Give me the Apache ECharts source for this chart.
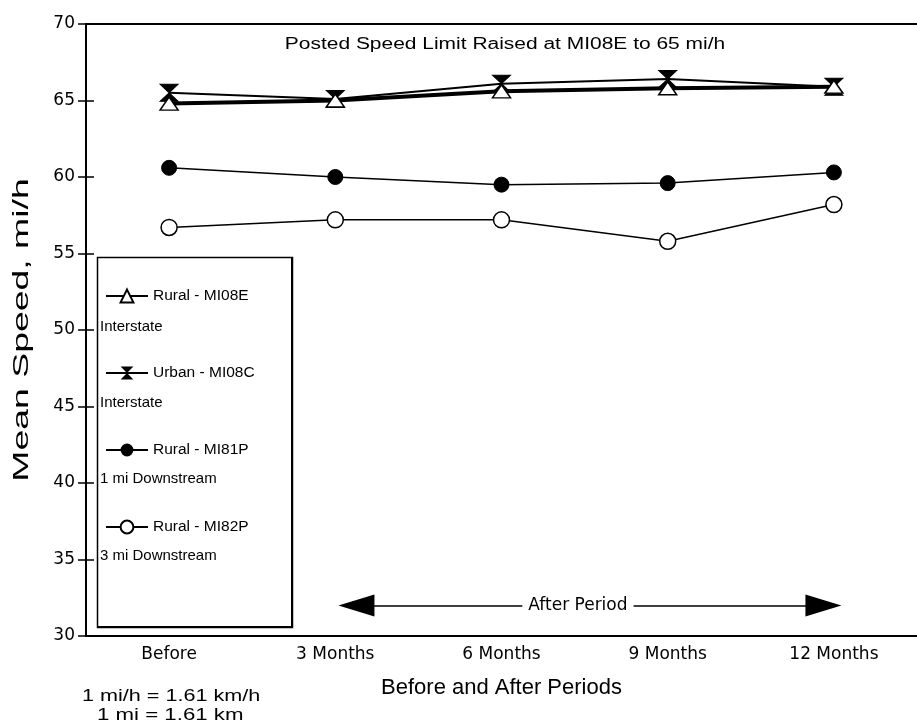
<!DOCTYPE html>
<html>
<head>
<meta charset="utf-8">
<script src="https://cdn.jsdelivr.net/npm/echarts@6/dist/echarts.min.js"></script>
<style>
html,body{margin:0;padding:0;background:#fff;}
#main{width:917px;height:728px;}
</style>
</head>
<body>
<div id="main"></div>
<script>
var categories = ['Before', '3 Months', '6 Months', '9 Months', '12 Months'];
var ruralMI08E = [64.8, 65.0, 65.6, 65.8, 65.9];
var urbanMI08C = [65.5, 65.1, 66.1, 66.4, 65.9];
var ruralMI81P = [60.6, 60.0, 59.5, 59.6, 60.3];
var ruralMI82P = [56.7, 57.2, 57.2, 55.8, 58.2];
var yTicks = [30, 35, 40, 45, 50, 55, 60, 65, 70];
var afterPeriod = { from: 1.127, to: 3.937, level: 32.0, label: 'After Period' };

var FONT = '"Liberation Sans", Arial, sans-serif';
var WIDE = '"DejaVu Sans", sans-serif';
var chart = echarts.init(document.getElementById('main'), null, { renderer: 'canvas' });
var hourglass = 'path://M0,0 L10,0 L5,5 Z M5,5 L10,10 L0,10 Z';

var option = {
  animation: false,
  backgroundColor: '#fff',
  textStyle: { fontFamily: FONT, color: '#000' },
  grid: { left: 86, right: -8, top: 24, bottom: 92, containLabel: false },
  xAxis: [{
    type: 'category',
    data: categories,
    boundaryGap: true,
    axisLine: { onZero: false, lineStyle: { color: '#000', width: 2 } },
    axisTick: { inside: true, alignWithLabel: true, length: 5, lineStyle: { color: '#000', width: 1.5 } },
    axisLabel: { color: '#000', fontSize: 17, fontFamily: WIDE, margin: 10 },
    name: 'Before and After Periods',
    nameLocation: 'middle',
    nameGap: 41,
    nameTextStyle: { fontSize: 22, color: '#000', fontFamily: FONT }
  }, {
    type: 'value',
    position: 'top',
    min: -0.5,
    max: 4.5,
    axisLine: { show: true, onZero: false, lineStyle: { color: '#000', width: 2 } },
    axisTick: { show: false },
    axisLabel: { show: false },
    splitLine: { show: false }
  }],
  yAxis: [{
    type: 'value',
    min: yTicks[0],
    max: yTicks[yTicks.length - 1],
    interval: 5,
    axisLine: { show: true, onZero: false, lineStyle: { color: '#000', width: 2 } },
    axisTick: { show: true, length: 8, lineStyle: { color: '#000', width: 1.5 } },
    axisLabel: { color: '#000', fontSize: 17, fontFamily: WIDE, margin: 11 },
    splitLine: { show: false }
  }, {
    type: 'value',
    min: yTicks[0],
    max: yTicks[yTicks.length - 1],
    interval: 5,
    position: 'left',
    axisLine: { show: false, onZero: false },
    axisTick: { show: true, inside: true, length: 8, lineStyle: { color: '#000', width: 1.5 } },
    axisLabel: { show: false },
    splitLine: { show: false }
  }],
  legend: {
    orient: 'vertical',
    left: 100,
    top: 282,
    itemGap: 59,
    itemWidth: 42,
    itemHeight: 16,
    textStyle: { fontSize: 15.5, color: '#000', fontFamily: FONT, lineHeight: 18 },
    data: ['Rural - MI08E', 'Urban - MI08C', 'Rural - MI81P', 'Rural - MI82P']
  },
  series: [{
    name: 'Urban - MI08C',
    type: 'line',
    data: urbanMI08C,
    symbol: hourglass,
    symbolSize: [18, 17],
    lineStyle: { color: '#000', width: 2 },
    itemStyle: { color: '#000', borderColor: '#000' },
    z: 3
  }, {
    name: 'Rural - MI08E',
    type: 'line',
    data: ruralMI08E,
    symbol: 'triangle',
    symbolSize: [18, 13],
    lineStyle: { color: '#000', width: 4 },
    itemStyle: { color: '#fff', borderColor: '#000', borderWidth: 1.5 },
    z: 4
  }, {
    name: 'Rural - MI81P',
    type: 'line',
    data: ruralMI81P,
    symbol: 'circle',
    symbolSize: 15,
    lineStyle: { color: '#000', width: 1.5 },
    itemStyle: { color: '#000', borderColor: '#000' }
  }, {
    name: 'Rural - MI82P',
    type: 'line',
    data: ruralMI82P,
    symbol: 'circle',
    symbolSize: 16,
    lineStyle: { color: '#000', width: 1.5 },
    itemStyle: { color: '#fff', borderColor: '#000', borderWidth: 1.5 }
  }, {
    name: 'arrow',
    type: 'line',
    xAxisIndex: 1,
    data: [],
    markLine: {
      silent: true,
      symbol: ['triangle', 'triangle'],
      symbolSize: [22, 36],
      lineStyle: { color: '#000', width: 1.5, type: 'solid' },
      label: {
        show: true,
        position: 'middle',
        formatter: afterPeriod.label,
        color: '#000',
        fontSize: 17,
        fontFamily: WIDE,
        backgroundColor: '#fff',
        padding: [2, 6],
        distance: 0,
        offset: [-12, 0],
        verticalAlign: 'middle'
      },
      itemStyle: { color: '#000' },
      data: [[{ coord: [afterPeriod.from, afterPeriod.level] }, { coord: [afterPeriod.to, afterPeriod.level] }]]
    }
  }],
  graphic: [
    { type: 'rect', left: 95, top: 255, shape: { width: 195, height: 370 }, style: { fill: 'none', stroke: '#000', lineWidth: 1.5 }, z: 1 },
    { type: 'line', shape: { x1: 292, y1: 258, x2: 292, y2: 627 }, style: { stroke: '#000', lineWidth: 2 }, z: 1 },
    { type: 'line', shape: { x1: 98, y1: 627, x2: 293, y2: 627 }, style: { stroke: '#000', lineWidth: 2 }, z: 1 },
    { type: 'text', left: 100, top: 319, style: { text: 'Interstate', fontSize: 15, fontFamily: FONT, fill: '#000' } },
    { type: 'text', left: 100, top: 395, style: { text: 'Interstate', fontSize: 15, fontFamily: FONT, fill: '#000' } },
    { type: 'text', left: 100, top: 471, style: { text: '1 mi Downstream', fontSize: 15, fontFamily: FONT, fill: '#000' } },
    { type: 'text', left: 100, top: 548, style: { text: '3 mi Downstream', fontSize: 15, fontFamily: FONT, fill: '#000' } },
    { type: 'text', x: 505, y: 45, scaleX: 1.31, style: { text: 'Posted Speed Limit Raised at MI08E to 65 mi/h', x: 0, y: 0, fontSize: 16, fontFamily: FONT, fill: '#000', align: 'center', verticalAlign: 'middle', textAlign: 'center', textVerticalAlign: 'middle' } },
    { type: 'text', x: 22, y: 330, rotation: Math.PI / 2, scaleX: 1.7, style: { text: 'Mean Speed, mi/h', x: 0, y: 0, fontSize: 22, fontFamily: FONT, fill: '#000', align: 'center', verticalAlign: 'middle', textAlign: 'center', textVerticalAlign: 'middle' } },
    { type: 'text', x: 82, y: 697, scaleX: 1.35, style: { text: '1 mi/h = 1.61 km/h', x: 0, y: 0, fontSize: 16, fontFamily: FONT, fill: '#000', align: 'left', verticalAlign: 'middle', textAlign: 'left', textVerticalAlign: 'middle' } },
    { type: 'text', x: 97, y: 716, scaleX: 1.39, style: { text: '1 mi = 1.61 km', x: 0, y: 0, fontSize: 16, fontFamily: FONT, fill: '#000', align: 'left', verticalAlign: 'middle', textAlign: 'left', textVerticalAlign: 'middle' } }
  ]
};
chart.setOption(option);
</script>
</body>
</html>
